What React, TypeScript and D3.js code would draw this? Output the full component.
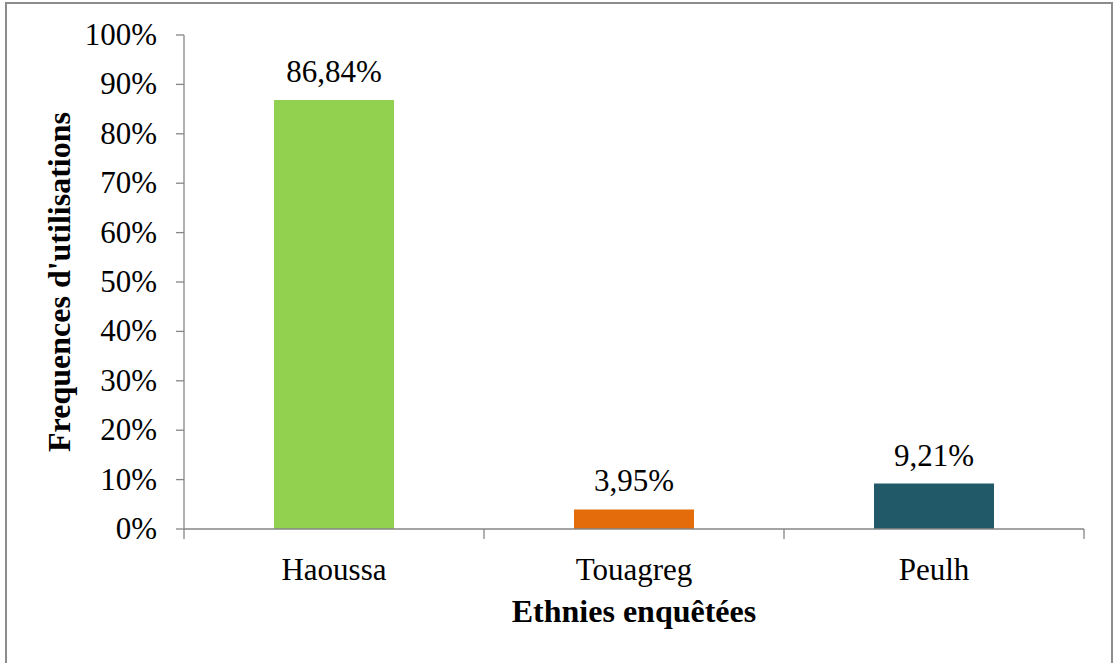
import React from "react";
import * as d3 from "d3";

const categories = ["Haoussa", "Touagreg", "Peulh"];
const values = [86.84, 3.95, 9.21];
const valueLabels = ["86,84%", "3,95%", "9,21%"];
const colors = ["#92D050", "#E46C0A", "#215968"];
const yTicks = [0, 10, 20, 30, 40, 50, 60, 70, 80, 90, 100];
const yTitle = "Frequences d'utilisations";
const xTitle = "Ethnies enquêtées";

export default function App() {
  const W = 1114, H = 663;
  const left = 184, right = 1084, top = 35, bottom = 529;
  const x = d3.scaleBand<string>().domain(categories).range([left, right]).paddingInner(0).paddingOuter(0);
  const y = d3.scaleLinear().domain([0, 100]).range([bottom, top]);
  const barW = x.bandwidth() * 0.4;
  const font = "'Liberation Serif', 'Times New Roman', serif";
  const axisColor = "#868686";
  const boundaries = [...categories.map((c) => x(c) as number), right];

  return (
    <svg width={W} height={H} style={{ position: "absolute", left: 0, top: 0 }} fontFamily={font}>
      <rect x={0} y={0} width={W} height={H} fill="#fff" />
      <rect x={6} y={3} width={1106} height={664} fill="#fff" stroke="#8c8c8c" strokeWidth={2} />
      {categories.map((c, i) => {
        const cx = (x(c) as number) + x.bandwidth() / 2;
        return (
          <g key={c}>
            <rect x={cx - barW / 2} y={y(values[i])} width={barW} height={bottom - y(values[i])} fill={colors[i]} />
            <text x={cx} y={y(values[i]) - 18} textAnchor="middle" fontSize={31} fill="#000">{valueLabels[i]}</text>
            <text x={cx} y={580} textAnchor="middle" fontSize={31} fill="#000">{c}</text>
          </g>
        );
      })}
      <line x1={left} x2={left} y1={top} y2={bottom} stroke={axisColor} strokeWidth={1.3} />
      <line x1={left} x2={right} y1={bottom} y2={bottom} stroke={axisColor} strokeWidth={1.3} />
      {yTicks.map((t) => (
        <g key={t}>
          <line x1={left - 8} x2={left} y1={y(t)} y2={y(t)} stroke={axisColor} strokeWidth={1.3} />
          <text x={157} y={y(t) + 10} textAnchor="end" fontSize={31} fill="#000">{t}%</text>
        </g>
      ))}
      {boundaries.map((b, i) => (
        <line key={i} x1={b} x2={b} y1={bottom} y2={bottom + 10} stroke={axisColor} strokeWidth={1.3} />
      ))}
      <text x={(left + right) / 2} y={622} textAnchor="middle" fontSize={32} fontWeight="bold" fill="#000">{xTitle}</text>
      <text transform={`translate(70, ${(top + bottom) / 2}) rotate(-90)`} textAnchor="middle" fontSize={32} fontWeight="bold" fill="#000">{yTitle}</text>
    </svg>
  );
}
